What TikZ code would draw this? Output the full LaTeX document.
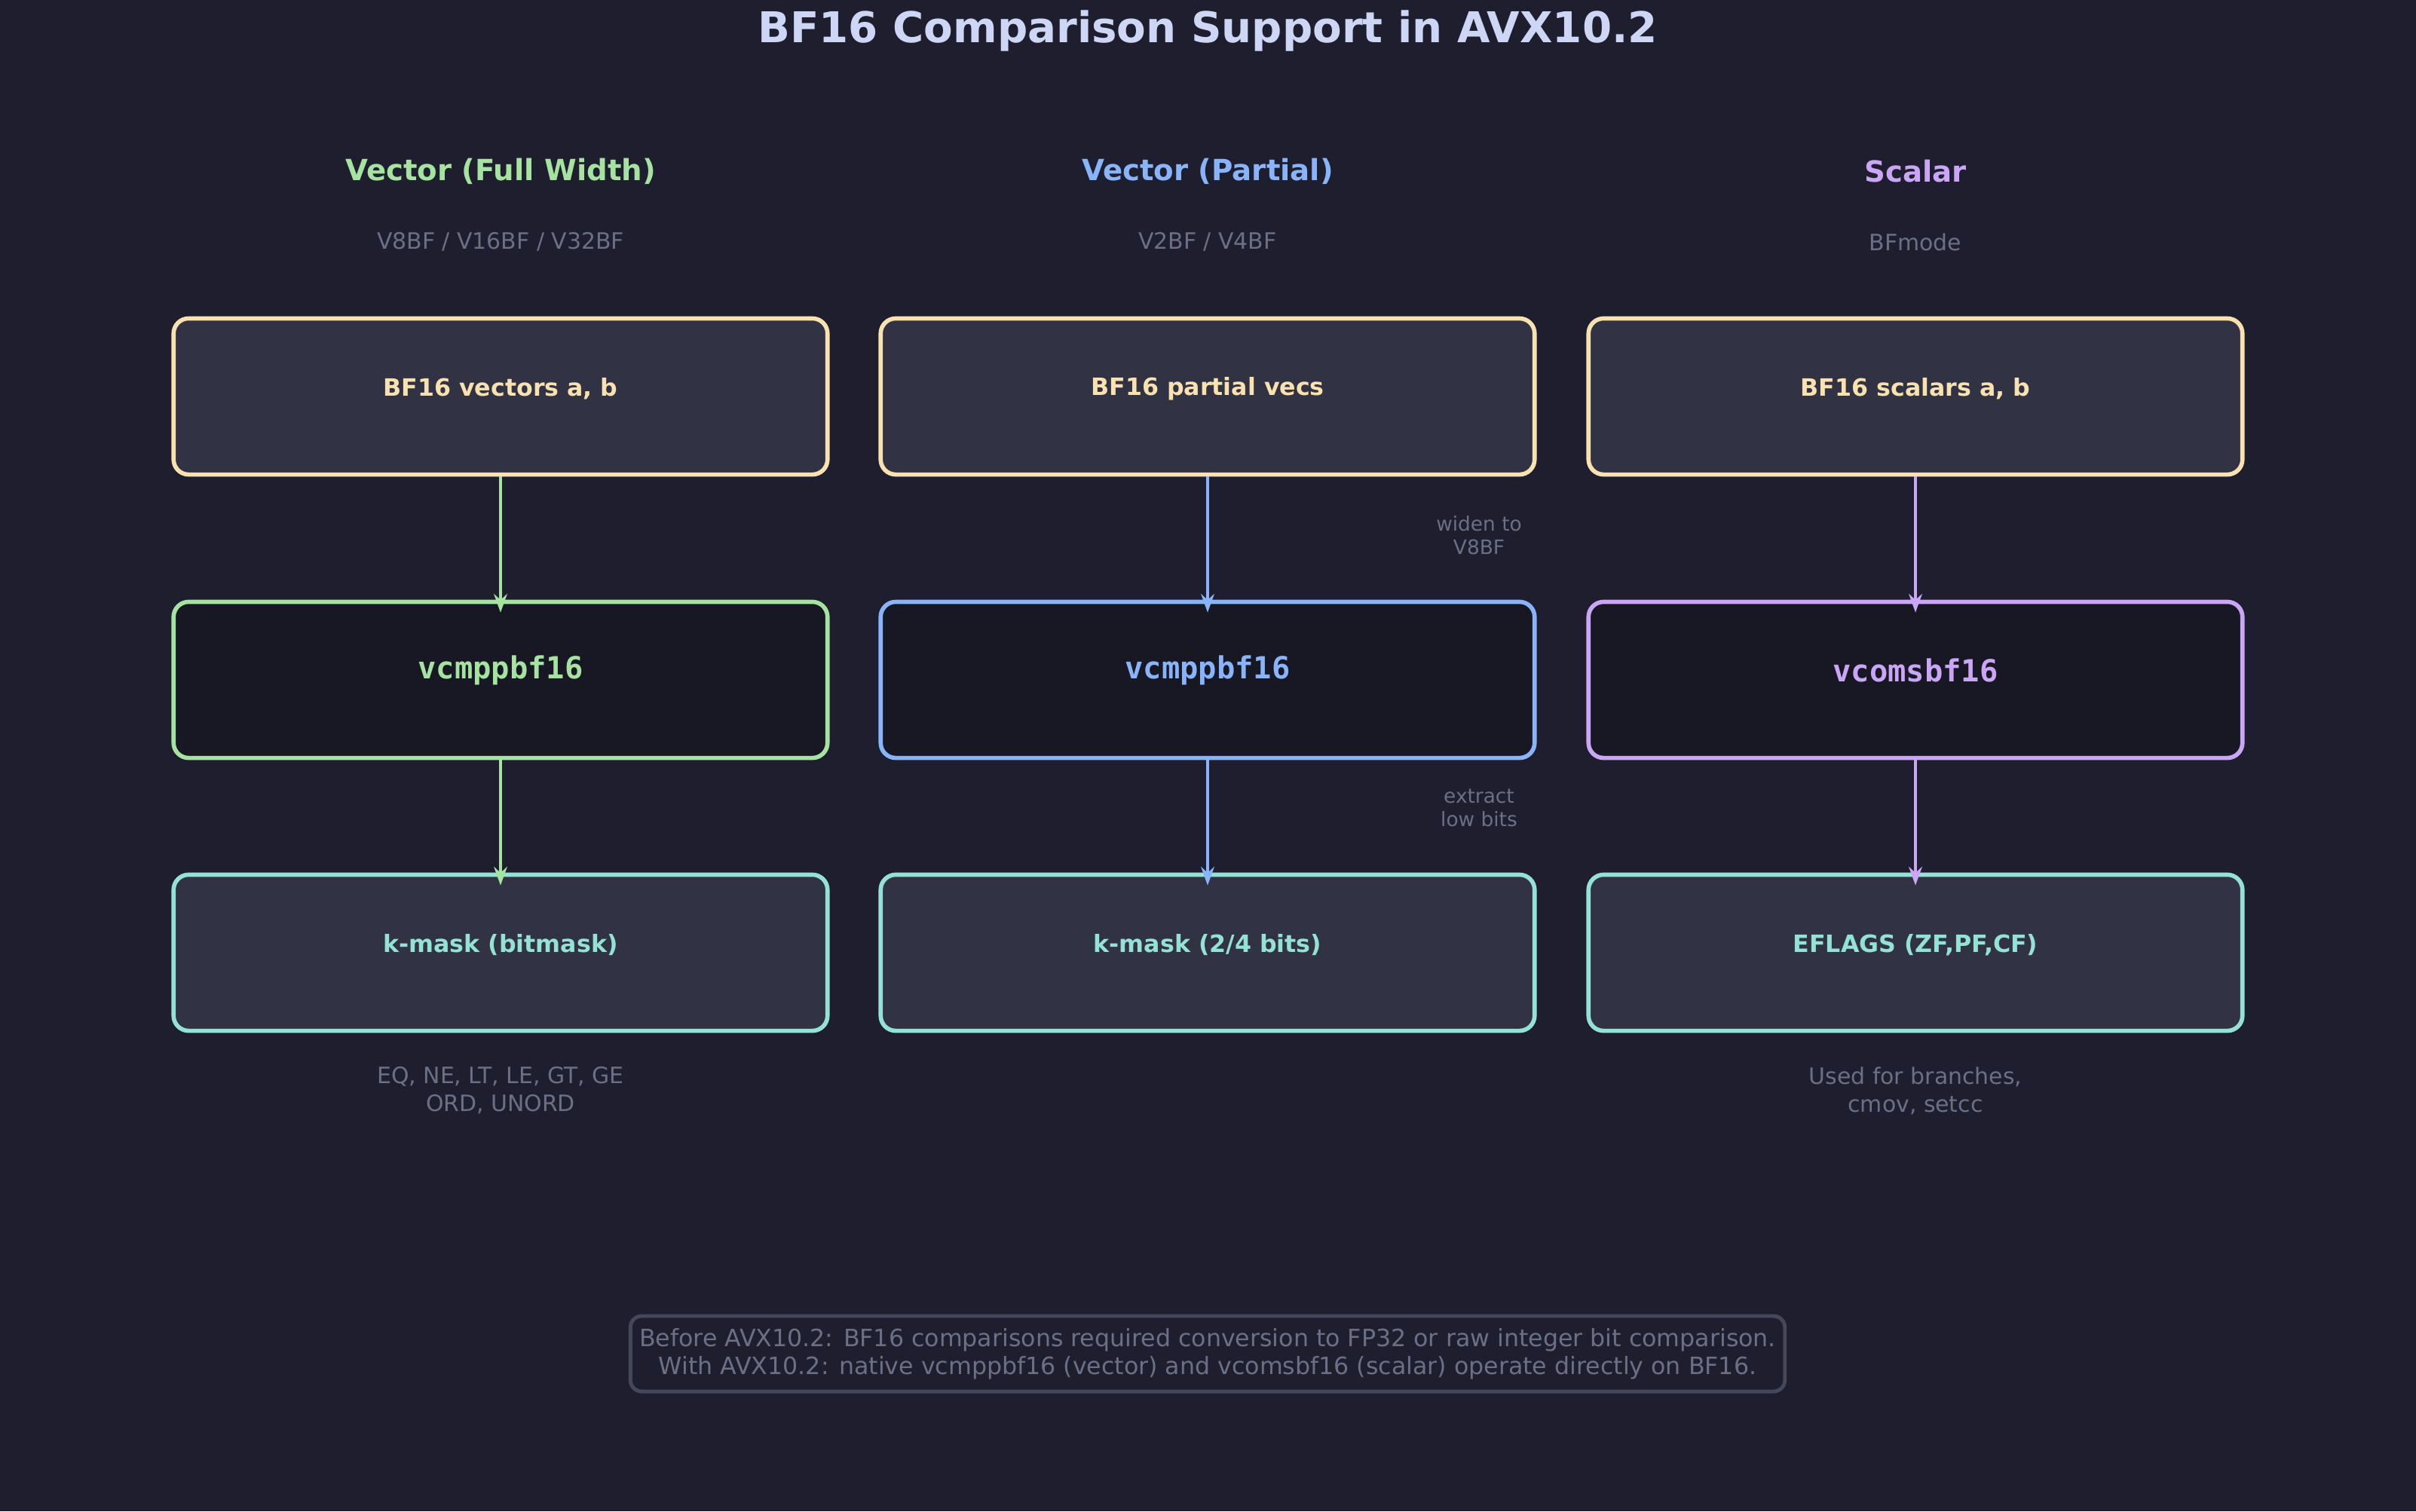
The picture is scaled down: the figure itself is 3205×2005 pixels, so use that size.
\documentclass[tikz,border=0pt]{standalone}
\usepackage{fontspec}
\setmainfont{DejaVu Sans}
\newfontfamily\monob{DejaVu Sans Mono}
\usetikzlibrary{arrows.meta}
\definecolor{bg}{HTML}{1E1E2E}
\definecolor{boxf}{HTML}{313244}
\definecolor{darkf}{HTML}{181825}
\definecolor{cyel}{HTML}{F9E2AF}
\definecolor{cgrn}{HTML}{A6E3A1}
\definecolor{cblu}{HTML}{89B4FA}
\definecolor{cmau}{HTML}{CBA6F7}
\definecolor{ctea}{HTML}{94E2D5}
\definecolor{cgry}{HTML}{6C7086}
\definecolor{ctit}{HTML}{CDD6F4}
\definecolor{cbord}{HTML}{45475A}
\begin{document}
\begin{tikzpicture}[x=0.01cm,y=-0.01cm,
  box/.style={draw, rounded corners=0.2cm, line width=1.6pt, minimum width=8.67cm, minimum height=2.07cm, inner sep=0pt},
  inbox/.style={box, fill=boxf, draw=cyel},
  opbox/.style={box, fill=darkf},
  outbox/.style={box, fill=boxf, draw=ctea},
  btxt/.style={font=\bfseries\fontsize{9}{11}\selectfont},
  otxt/.style={font=\monob\bfseries\fontsize{11.5}{13}\selectfont},
  hdr/.style={font=\bfseries\fontsize{11}{13}\selectfont},
  sub/.style={text=cgry, font=\fontsize{8.5}{10}\selectfont},
  note/.style={text=cgry, font=\fontsize{7.5}{9}\selectfont, align=center},
  arr/.style={line width=1.3pt, -{Stealth[length=7pt,width=5pt]}}]
\fill[bg] (0,0) rectangle (3205,2005);
\useasboundingbox (0,0) rectangle (3205,2005);
\node[text=ctit, font=\bfseries\fontsize{16}{19}\selectfont] (title) at (1602,41) {BF16 Comparison Support in AVX10.2};
% headers
\node[hdr, text=cgrn] (h1) at (664,227) {Vector (Full Width)};
\node[hdr, text=cblu] (h2) at (1602,227) {Vector (Partial)};
\node[hdr, text=cmau] (h3) at (2541,227) {Scalar};
\node[sub] (s1) at (664,321) {V8BF / V16BF / V32BF};
\node[sub] (s2) at (1602,321) {V2BF / V4BF};
\node[sub] (s3) at (2541,321) {BFmode};
% boxes
\foreach \i/\x in {1/664,2/1602,3/2541}{
  \node[inbox] (in\i) at (\x,526) {};
  \node[outbox] (out\i) at (\x,1264) {};
}
\node[opbox, draw=cgrn] (op1) at (664,902) {};
\node[opbox, draw=cblu] (op2) at (1602,902) {};
\node[opbox, draw=cmau] (op3) at (2541,902) {};
\node[btxt, text=cyel] (t1) at (664,516) {BF16 vectors a, b};
\node[btxt, text=cyel] (t2) at (1602,516) {BF16 partial vecs};
\node[btxt, text=cyel] (t3) at (2541,516) {BF16 scalars a, b};
\node[otxt, text=cgrn] (o1) at (664,889) {vcmppbf16};
\node[otxt, text=cblu] (o2) at (1602,889) {vcmppbf16};
\node[otxt, text=cmau] (o3) at (2541,889) {vcomsbf16};
\node[btxt, text=ctea] (r1) at (664,1254) {k-mask (bitmask)};
\node[btxt, text=ctea] (r2) at (1602,1254) {k-mask (2/4 bits)};
\node[btxt, text=ctea] (r3) at (2541,1254) {EFLAGS (ZF,PF,CF)};
% arrows
\foreach \i/\c in {1/cgrn,2/cblu,3/cmau}{
  \draw[arr, draw=\c, fill=\c] (in\i.south) -- ([yshift=-0.17cm]op\i.north);
  \draw[arr, draw=\c, fill=\c] (op\i.south) -- ([yshift=-0.17cm]out\i.north);
}
\node[note] (w) at (1962,710) {widen to\\V8BF};
\node[note] (e) at (1962,1072) {extract\\low bits};
\node[sub, align=center, font=\fontsize{8.5}{10.5}\selectfont] (n1) at (664,1447) {EQ, NE, LT, LE, GT, GE\\ORD, UNORD};
\node[sub, align=center, font=\fontsize{8.5}{10.5}\selectfont] (n3) at (2541,1447) {Used for branches,\\cmov, setcc};
\node[draw=cbord, line width=1.4pt, rounded corners=0.15cm, minimum width=15.25cm, minimum height=1.0cm, text=cgry, align=center, font=\fontsize{9}{10.5}\selectfont] (foot) at (1602,1796) {Before AVX10.2: BF16 comparisons required conversion to FP32 or raw integer bit comparison.\\With AVX10.2: native vcmppbf16 (vector) and vcomsbf16 (scalar) operate directly on BF16.};
\end{tikzpicture}
\end{document}
